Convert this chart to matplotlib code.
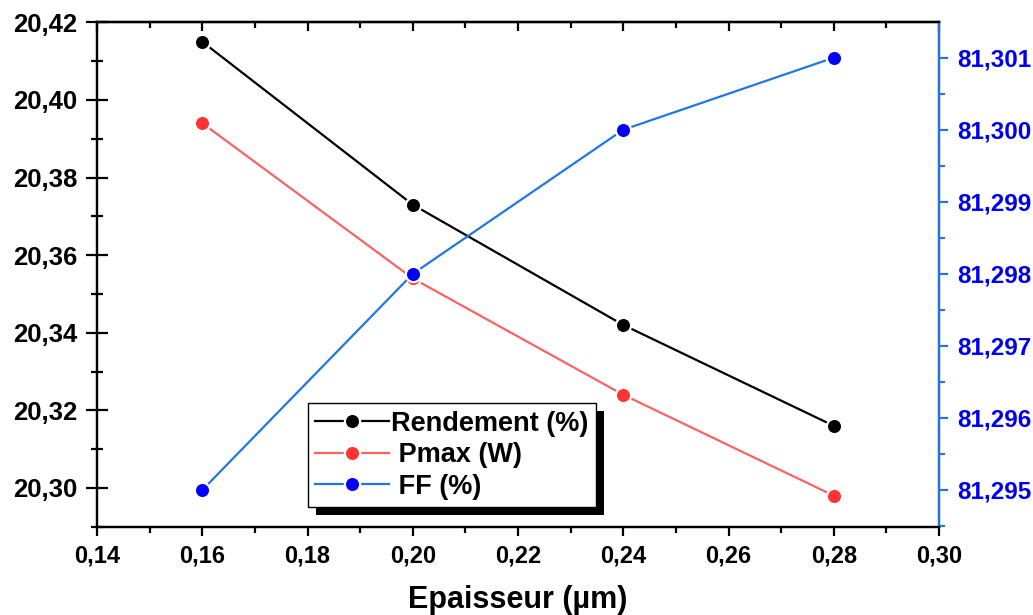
import numpy as np
import matplotlib
matplotlib.use("Agg")
import matplotlib.pyplot as plt
from matplotlib.ticker import MultipleLocator, FuncFormatter
from matplotlib.patches import Rectangle

plt.rcParams["font.family"] = ["Liberation Sans", "DejaVu Sans"]
plt.rcParams["font.weight"] = "bold"

# thickness (µm) and measured values
epaisseur = [0.16, 0.20, 0.24, 0.28]
rendement = [20.415, 20.373, 20.342, 20.316]
pmax = [20.394, 20.354, 20.324, 20.298]
ff = [81.295, 81.298, 81.300, 81.301]

fig = plt.figure(figsize=(10.33, 6.15), dpi=100)
ax = fig.add_axes([0.094, 0.1436, 0.815, 0.820])
ax2 = ax.twinx()

l1, = ax.plot(epaisseur, rendement, "-o", color="black", lw=1.6, ms=11,
              mec="white", mew=1.6, label="Rendement (%)")
l2, = ax.plot(epaisseur, pmax, "-o", color="#f86464", mfc="#ff3333", lw=1.6, ms=11,
              mec="white", mew=1.6, label=" Pmax (W)")
l3, = ax2.plot(epaisseur, ff, "-o", color="#1f78e0", mfc="#0000ff", lw=1.6, ms=11,
               mec="white", mew=1.6, label=" FF (%)")

ax.set_xlim(0.14, 0.30)
ax.set_ylim(20.29, 20.42)
ax2.set_ylim(81.29449, 81.30149)

comma = lambda fmt: FuncFormatter(lambda v, p: (fmt % v).replace(".", ","))
ax.xaxis.set_major_locator(MultipleLocator(0.02))
ax.xaxis.set_minor_locator(MultipleLocator(0.01))
ax.xaxis.set_major_formatter(comma("%.2f"))
ax.yaxis.set_major_locator(MultipleLocator(0.02))
ax.yaxis.set_minor_locator(MultipleLocator(0.01))
ax.yaxis.set_major_formatter(comma("%.2f"))
ax2.yaxis.set_major_locator(MultipleLocator(0.001))
ax2.yaxis.set_minor_locator(MultipleLocator(0.0005))
ax2.yaxis.set_major_formatter(comma("%.3f"))

for a in (ax, ax2):
    for s in a.spines.values():
        s.set_linewidth(1.6)
ax2.spines["right"].set_color("#1f78e0")

ax.tick_params(axis="x", which="major", direction="out", length=6.5, width=1.6,
               labelsize=17, pad=6)
ax.tick_params(axis="x", which="minor", direction="out", length=4, width=1.6)
ax.tick_params(axis="y", which="major", direction="inout", length=16, width=1.6,
               labelsize=18.5, pad=6)
ax.tick_params(axis="y", which="minor", direction="inout", length=8.5, width=1.6)
ax2.tick_params(axis="y", which="major", direction="out", length=6.5, width=1.6,
                colors="#1f78e0", labelsize=17.5, labelcolor="#0000ee", pad=7)
ax2.tick_params(axis="y", which="minor", direction="out", length=4, width=1.6,
                colors="#1f78e0")

# top axis: inward ticks, no labels
top = ax.secondary_xaxis("top")
top.xaxis.set_major_locator(MultipleLocator(0.02))
top.xaxis.set_minor_locator(MultipleLocator(0.01))
top.tick_params(which="major", direction="in", length=6.5, width=1.6, labeltop=False)
top.tick_params(which="minor", direction="in", length=4, width=1.6)
top.spines["top"].set_linewidth(1.6)

ax.set_xlabel("Epaisseur (µm)", fontsize=22, fontweight="bold", labelpad=13)

leg = ax2.legend(handles=[l1, l2, l3], loc="upper left", bbox_to_anchor=(0.2503, 0.245),
                 borderaxespad=0, fancybox=False, edgecolor="black", framealpha=1,
                 prop={"size": 19.5, "weight": "bold"}, handlelength=2.7,
                 handletextpad=0.1, borderpad=0.28, labelspacing=0.2)
leg.get_frame().set_linewidth(1.0)
leg.set_zorder(10)

# solid drop shadow behind the legend box
fig.canvas.draw()
bb = leg.get_window_extent()
ax2.add_patch(Rectangle((bb.x0 + 8, bb.y0 - 8), bb.width, bb.height, transform=None,
                        facecolor="black", edgecolor="none", zorder=9, clip_on=False))

fig.savefig("out.png", dpi=100)
